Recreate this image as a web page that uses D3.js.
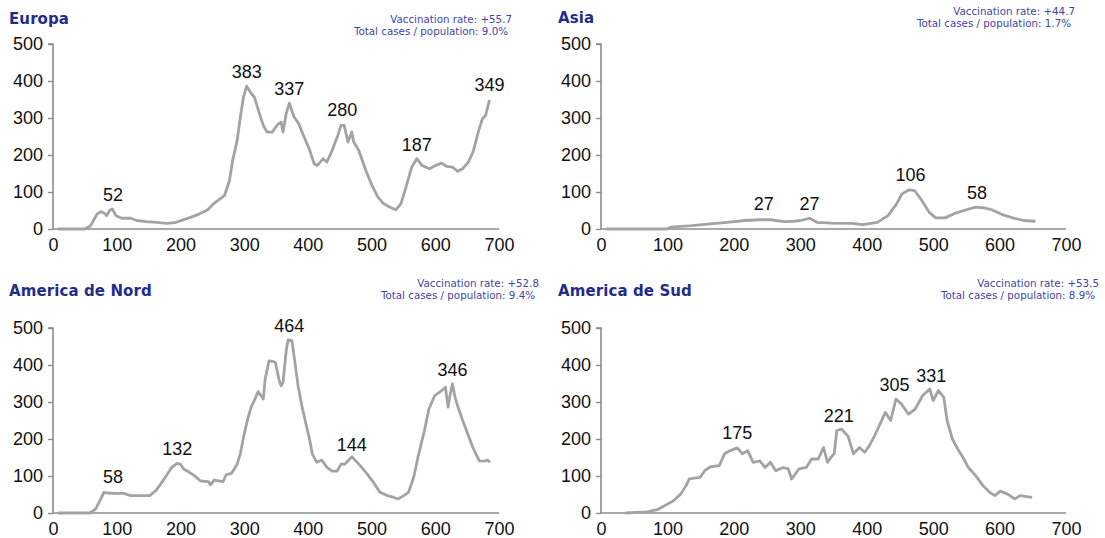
<!DOCTYPE html>
<html><head><meta charset="utf-8">
<script src="https://cdn.jsdelivr.net/npm/d3@7"></script>
<style>body{margin:0;background:#fff}svg{display:block}</style>
</head><body><svg id="c" width="1105" height="538"></svg>
<script>
// ---- data (day since first case, cases per million) ----
const xTicks = [0,100,200,300,400,500,600,700];
const yTicks = [0,100,200,300,400,500];
const titles = ["Europa","Asia","America de Nord","America de Sud"];
const vaccination = ["+55.7","+44.7","+52.8","+53.5"];
const casesPop = ["9.0%","1.7%","9.4%","8.9%"];

const europa = [[8,0],[50,0],[59,9],[69,40],[75,47],[81,42],[84,36],[89,50],[93,54],[99,36],[108,29],[122,29],[131,23],[146,20],[163,18],[178,15],[191,17],[203,24],[217,32],[230,41],[242,51],[252,68],[260,79],[269,90],[277,131],[282,185],[289,239],[294,302],[299,357],[304,386],[308,375],[311,366],[316,357],[324,312],[330,280],[336,262],[344,262],[353,283],[358,289],[361,262],[366,312],[371,340],[378,304],[386,284],[393,253],[402,217],[410,176],[415,172],[424,190],[430,181],[438,212],[447,253],[452,280],[457,280],[463,235],[469,262],[472,235],[480,212],[491,158],[502,113],[510,86],[519,68],[529,59],[538,52],[546,68],[554,113],[563,167],[571,190],[579,172],[591,163],[601,172],[610,178],[618,169],[627,167],[635,156],[643,163],[652,181],[660,212],[668,266],[674,298],[679,307],[685,349]];
const asia = [[8,0],[99,0],[105,5],[137,9],[164,14],[190,18],[217,23],[239,25],[255,25],[276,20],[292,21],[300,23],[314,29],[325,18],[346,16],[378,15],[394,12],[416,18],[432,36],[445,68],[453,95],[464,106],[472,104],[483,77],[494,45],[504,30],[518,30],[534,43],[550,52],[564,59],[577,57],[588,52],[604,39],[620,30],[636,23],[654,21]];
const americaNord = [[8,0],[58,0],[67,11],[75,38],[80,56],[86,54],[97,53],[111,53],[122,47],[130,47],[152,47],[161,60],[169,78],[178,101],[186,123],[195,134],[200,132],[205,119],[214,110],[222,101],[231,87],[244,85],[247,76],[253,89],[260,87],[267,85],[272,104],[280,107],[289,132],[294,160],[299,205],[305,250],[311,286],[316,304],[322,328],[326,318],[330,308],[333,362],[339,411],[344,410],[349,407],[355,358],[358,344],[361,353],[366,439],[369,468],[375,466],[380,403],[385,340],[391,286],[397,241],[402,205],[407,160],[414,137],[422,143],[430,123],[438,113],[446,113],[452,132],[458,132],[463,141],[469,152],[480,132],[491,110],[503,83],[513,56],[525,47],[535,42],[541,38],[549,45],[558,56],[566,96],[574,160],[583,223],[590,281],[599,317],[610,331],[616,340],[620,286],[623,317],[627,349],[631,313],[635,290],[643,250],[652,209],[660,173],[669,141],[677,140],[682,143],[686,137]];
const americaSud = [[37,0],[69,3],[85,9],[96,20],[109,33],[120,51],[128,74],[133,92],[149,96],[157,116],[165,125],[178,128],[186,160],[194,168],[205,176],[213,160],[221,168],[229,137],[239,141],[247,123],[255,137],[263,114],[274,123],[282,119],[287,92],[298,119],[309,123],[317,146],[327,146],[335,177],[341,137],[346,150],[351,160],[355,223],[362,227],[372,207],[380,160],[389,177],[397,164],[404,182],[412,209],[420,240],[428,272],[436,250],[444,308],[452,295],[463,267],[473,281],[484,317],[495,335],[500,304],[508,331],[516,313],[521,250],[529,200],[537,173],[545,150],[553,123],[564,101],[575,74],[585,56],[593,47],[601,59],[612,51],[623,38],[631,47],[641,44],[649,42]];

// peak annotations: [day, value]
const europaPeaks = [[94,52],[304,383],[371,337],[454,280],[571,187],[685,349]];
const asiaPeaks = [[245,27],[314,27],[466,106],[566,58]];
const nordPeaks = [[94,58],[195,132],[371,464],[469,144],[627,346]];
const sudPeaks = [[205,175],[358,221],[442,305],[497,331]];

const series = [europa, asia, americaNord, americaSud];
const peaks = [europaPeaks, asiaPeaks, nordPeaks, sudPeaks];

// ---- layout ----
const panels = [
  {x0:53, x1:499, y0:229, y1:44, tx:9, ty:24, ix:512, iy:23},
  {x0:601, x1:1066, y0:229, y1:44, tx:558, ty:23, ix:1075, iy:15},
  {x0:53, x1:499, y0:513, y1:328, tx:9, ty:296, ix:539, iy:287},
  {x0:601, x1:1066, y0:513, y1:328, tx:558, ty:296, ix:1099, iy:287}
];

const svg = d3.select("#c");
const axisColor = "#8c8c8c", lineColor = "#a3a3a3";
const numFont = "Liberation Sans, Arial, sans-serif";
const txtFont = "DejaVu Sans, Verdana, sans-serif";

panels.forEach((p, i) => {
  const x = d3.scaleLinear().domain([0,700]).range([p.x0, p.x1]);
  const y = d3.scaleLinear().domain([0,500]).range([p.y0, p.y1]);
  const g = svg.append("g");

  const ya = g.append("g").attr("transform", `translate(${p.x0},0)`)
    .call(d3.axisLeft(y).tickValues(yTicks).tickSize(5).tickPadding(5));
  const xa = g.append("g").attr("transform", `translate(0,${p.y0})`)
    .call(d3.axisBottom(x).tickValues(xTicks).tickSize(0).tickPadding(9));
  [ya, xa].forEach(a => {
    a.select(".domain").attr("stroke", axisColor).attr("stroke-width", 1.6);
    a.selectAll(".tick line").attr("stroke", axisColor).attr("stroke-width", 1.4);
    a.selectAll("text").attr("font-family", numFont)
      .attr("font-size", 18).attr("fill", "#111");
  });
  ya.select(".domain").attr("d", `M-5,${p.y1}H0V${p.y0}`);
  xa.select(".domain").attr("d", `M${p.x0},0H${p.x1}`);

  g.append("path").datum(series[i])
    .attr("fill", "none").attr("stroke", lineColor).attr("stroke-width", 2.8)
    .attr("stroke-linejoin", "round")
    .attr("d", d3.line().x(d => x(d[0])).y(d => y(d[1])));

  g.selectAll(".pk").data(peaks[i]).enter().append("text")
    .attr("x", d => x(d[0])).attr("y", d => y(d[1]) - 9)
    .attr("text-anchor", "middle")
    .attr("font-family", numFont)
    .attr("font-size", 18).attr("fill", "#111")
    .text(d => d[1]);

  g.append("text").attr("x", p.tx).attr("y", p.ty)
    .attr("font-family", txtFont).attr("font-weight", "bold")
    .attr("font-size", 15).attr("letter-spacing", 0.1)
    .attr("fill", "#1f2d8c").text(titles[i]);

  g.append("text").attr("x", p.ix).attr("y", p.iy).attr("text-anchor", "end")
    .attr("font-family", txtFont).attr("font-size", 10.3)
    .attr("fill", "#3f44a8").text("Vaccination rate: " + vaccination[i]);
  g.append("text").attr("x", p.ix - 4).attr("y", p.iy + 12).attr("text-anchor", "end")
    .attr("font-family", txtFont).attr("font-size", 10.3)
    .attr("fill", "#3f44a8").text("Total cases / population: " + casesPop[i]);
});
</script></body></html>
